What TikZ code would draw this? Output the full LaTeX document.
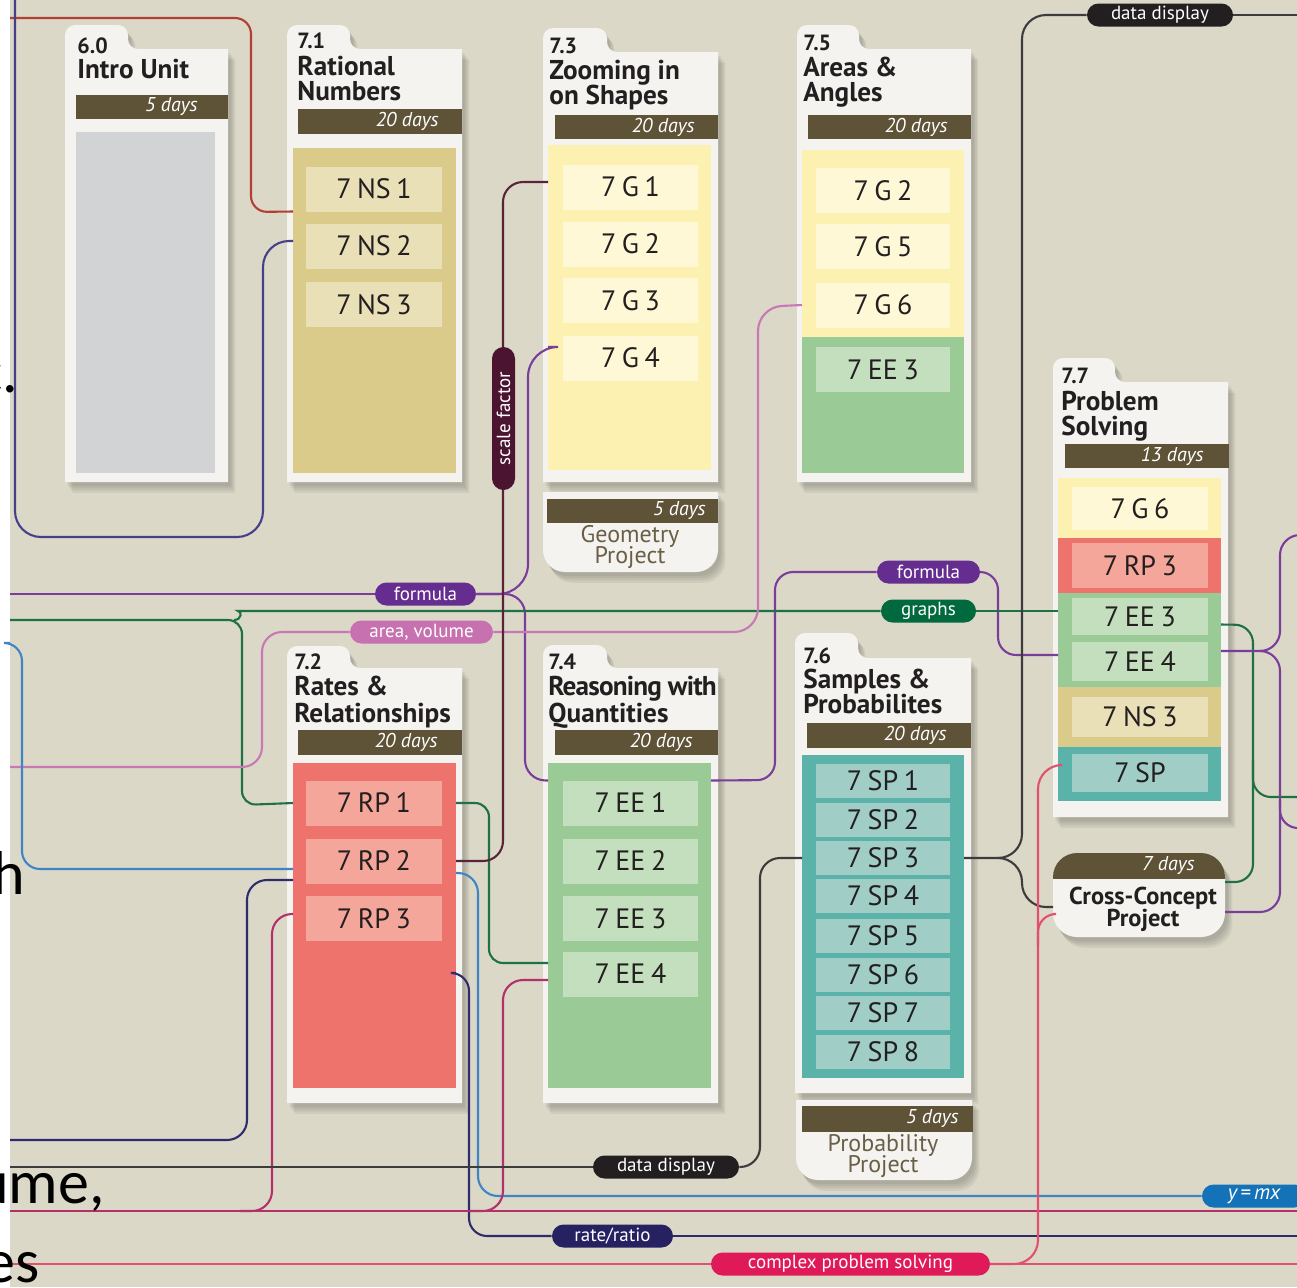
\documentclass[tikz,border=0pt]{standalone}
\usepackage{fontspec}
\setmainfont{PT Sans}
\newfontfamily\slidefont{Carlito}
\usetikzlibrary{calc}

\definecolor{bgbeige}{HTML}{DBD8C7}
\definecolor{cardbg}{HTML}{F4F3EF}
\definecolor{barbrown}{HTML}{5E5237}
\definecolor{ink}{HTML}{231F20}
\definecolor{projink}{HTML}{6A5E46}
\definecolor{areaGray}{HTML}{D1D3D5}
\definecolor{areaKhaki}{HTML}{DBCB8A}
\definecolor{boxKhaki}{HTML}{E9E0B8}
\definecolor{areaYellow}{HTML}{FDF1B1}
\definecolor{boxYellow}{HTML}{FEF8D7}
\definecolor{areaRed}{HTML}{EF736D}
\definecolor{boxRed}{HTML}{F5A69A}
\definecolor{areaGreen}{HTML}{9ACB96}
\definecolor{boxGreen}{HTML}{C3DFBD}
\definecolor{areaTeal}{HTML}{5AB2A8}
\definecolor{boxTeal}{HTML}{A0CEC7}
% connector colours
\definecolor{cRed}{HTML}{B23F33}
\definecolor{cIndigo}{HTML}{464089}
\definecolor{cPurple}{HTML}{7A3D9B}
\definecolor{cGreen}{HTML}{1F7046}
\definecolor{cPink}{HTML}{C878B4}
\definecolor{cBlue}{HTML}{3E85C5}
\definecolor{cMaroon}{HTML}{5A2339}
\definecolor{cNavy}{HTML}{2F2C6E}
\definecolor{cCrimson}{HTML}{B3306A}
\definecolor{cBlack}{HTML}{3C3C3C}
\definecolor{cRose}{HTML}{E2506F}
% label colours
\definecolor{pBlack}{HTML}{231F20}
\definecolor{pMaroon}{HTML}{4B1431}
\definecolor{pPurple}{HTML}{662D91}
\definecolor{pPink}{HTML}{C771B0}
\definecolor{pGreen}{HTML}{00693E}
\definecolor{pNavy}{HTML}{262262}
\definecolor{pRose}{HTML}{E01A59}
\definecolor{pBlue}{HTML}{1472B8}

% unit card: x0, x1, tab right, tab top, body top, bottom
\newcommand\unitcard[6]{%
  \foreach \k in {1,...,4}{%
    \fill[black,opacity=0.055,shift={(1+\k*1.6,2+\k*2.2)}] (#1,#6) [rounded corners=5pt] -- (#1,#4) -- (#3,#4) -- (#3,#5) [sharp corners] -- (#2,#5) -- (#2,#6) -- cycle;}
  \fill[cardbg] (#1,#6) [rounded corners=5pt] -- (#1,#4) -- (#3,#4) -- (#3,#5) [sharp corners] -- (#2,#5) -- (#2,#6) -- cycle;
}
% project card with rounded bottom: x0, x1, top, bottom
\newcommand\projcard[4]{%
  \foreach \k in {1,...,4}{%
    \begin{scope}[shift={(1+\k*1.6,2+\k*2.2)}]
      \clip (#1-10,#3) rectangle (#2+10,#4+10);
      \fill[black,opacity=0.055,rounded corners=11pt] (#1,#3-40) rectangle (#2,#4);
    \end{scope}}
  \begin{scope}
    \clip (#1-10,#3) rectangle (#2+10,#4+10);
    \fill[cardbg,rounded corners=11pt] (#1,#3-40) rectangle (#2,#4);
  \end{scope}
}

\begin{document}
\begin{tikzpicture}[x=0.5pt,y=-0.5pt,
  ln/.style={line width=1.05pt, rounded corners=7pt},
  area/.style={inner sep=0pt, outer sep=0pt},
  std/.style={inner sep=0pt, outer sep=0pt, minimum height=22.5pt, text=ink, font=\fontsize{14}{14}\selectfont, execute at begin node={\spaceskip=0.2em\relax}},
  stdA/.style={std, minimum width=68pt},
  stdB/.style={std, minimum width=67.5pt},
  stdC/.style={std, minimum width=67pt},
  bar/.style={fill=barbrown, inner sep=0pt, outer sep=0pt},
  days/.style={anchor=east, text=white, inner sep=0pt, font=\itshape\fontsize{10}{10}\selectfont},
  unum/.style={anchor=base west, inner sep=0pt, text=ink, font=\bfseries\fontsize{11}{11}\selectfont},
  utitle/.style={anchor=base west, inner sep=0pt, text=ink, font=\bfseries\fontsize{13.6}{13.6}\selectfont},
  ptitle/.style={anchor=base, inner sep=0pt, text=projink, font=\fontsize{12}{12}\selectfont},
  cctitle/.style={anchor=base, inner sep=0pt, text=ink, font=\bfseries\fontsize{12.2}{12.2}\selectfont},
  pill/.style={rounded corners=5.75pt, minimum height=11.5pt, inner sep=0pt, text=white, font=\fontsize{9.5}{9.5}\selectfont},
  frag/.style={anchor=base east, inner sep=0pt, text=black, font=\slidefont\fontsize{31}{31}\selectfont}
]
\useasboundingbox (0,0) rectangle (1297,1287);
\clip (0,0) rectangle (1297,1287);
\fill[white] (0,0) rectangle (1297,1287);
\fill[bgbeige] (10,0) rectangle (1297,1287);

% ---------- unit cards ----------
\unitcard{65}{228}{128}{25}{49}{482}
\unitcard{287}{462}{350}{25}{49}{482}
\unitcard{543}{718}{607}{28}{52}{482}
\unitcard{797}{971}{859}{25}{49}{482}
\unitcard{1053}{1228}{1115}{358}{382}{817}
\unitcard{287}{462}{350}{646}{668}{1103}
\unitcard{543}{718}{607}{645}{668}{1103}
\unitcard{795}{971}{858}{633}{658}{1093}
\projcard{543}{718}{492}{572}
\projcard{796}{972}{1100}{1180}

% cross-concept project
\foreach \k in {1,...,4}{%
  \fill[black,opacity=0.055,rounded corners=12pt,shift={(1+\k*1.6,2+\k*2.2)}] (1053,853) rectangle (1225,937);}
\node[fill=cardbg, rounded corners=12pt, minimum width=86pt, minimum height=42pt, inner sep=0pt, outer sep=0pt] (cc) at (1139,895) {};
\begin{scope}
  \clip (1040,850) rectangle (1240,878);
  \fill[barbrown, rounded corners=12pt] (cc.south west) rectangle (cc.north east);
\end{scope}
\node[days] (ccdays) at (1195,866) {7 days};
\node[cctitle] (cct1) at (1143,904) {Cross-Concept};
\node[cctitle] (cct2) at (1143,926) {Project};

% ---------- headings ----------
\node[unum] (n60) at (77,53) {6.0};
\node[utitle] (t60a) at (77,78) {Intro Unit};
\node[unum] (n71) at (297,48) {7.1};
\node[utitle] (t71a) at (297,75) {Rational};
\node[utitle] (t71b) at (297,100) {Numbers};
\node[unum] (n73) at (549,53) {7.3};
\node[utitle] (t73a) at (549,79) {Zooming in};
\node[utitle] (t73b) at (549,104) {on Shapes};
\node[unum] (n75) at (803,50) {7.5};
\node[utitle] (t75a) at (803,76) {Areas \&};
\node[utitle] (t75b) at (803,101) {Angles};
\node[unum] (n77) at (1061,383) {7.7};
\node[utitle] (t77a) at (1061,410) {Problem};
\node[utitle] (t77b) at (1061,435) {Solving};
\node[unum] (n72) at (294,669) {7.2};
\node[utitle] (t72a) at (294,695) {Rates \&};
\node[utitle] (t72b) at (294,722) {Relationships};
\node[unum] (n74) at (548,669) {7.4};
\node[utitle, font=\bfseries\fontsize{13.6}{13.6}\selectfont\addfontfeature{LetterSpace=-3}] (t74a) at (548,695) {Reasoning with};
\node[utitle] (t74b) at (548,722) {Quantities};
\node[unum] (n76) at (803,663) {7.6};
\node[utitle] (t76a) at (803,688) {Samples \&};
\node[utitle] (t76b) at (803,713) {Probabilites};

% ---------- day bars ----------
\node[bar, minimum width=76pt, minimum height=12pt] (d60) at (152,107) {};
\node[days] (d60t) at ([xshift=-15pt]d60.east) {5 days};
\node[bar, minimum width=82pt, minimum height=12.5pt] (d71) at (380,121.5) {};
\node[days] (d71t) at ([xshift=-11.5pt]d71.east) {20 days};
\node[bar, minimum width=81.5pt, minimum height=12pt] (d73) at (636.5,127) {};
\node[days] (d73t) at ([xshift=-11.5pt]d73.east) {20 days};
\node[bar, minimum width=81.5pt, minimum height=12pt] (d75) at (889.5,127) {};
\node[days] (d75t) at ([xshift=-11.5pt]d75.east) {20 days};
\node[bar, minimum width=82pt, minimum height=12pt] (d77) at (1147,456) {};
\node[days] (d77t) at ([xshift=-12.5pt]d77.east) {13 days};
\node[bar, minimum width=82pt, minimum height=12.5pt] (d72) at (380,742.5) {};
\node[days] (d72t) at ([xshift=-12pt]d72.east) {20 days};
\node[bar, minimum width=81.5pt, minimum height=12.5pt] (d74) at (636.5,742.5) {};
\node[days] (d74t) at ([xshift=-12.5pt]d74.east) {20 days};
\node[bar, minimum width=82pt, minimum height=12.5pt] (d76) at (889,735.5) {};
\node[days] (d76t) at ([xshift=-12pt]d76.east) {20 days};
\node[bar, minimum width=85.5pt, minimum height=12pt] (dgp) at (632.5,511) {};
\node[days] (dgpt) at ([xshift=-6pt]dgp.east) {5 days};
\node[bar, minimum width=85.5pt, minimum height=13pt] (dpp) at (887.5,1119) {};
\node[days] (dppt) at ([xshift=-7pt]dpp.east) {5 days};

% project names
\node[ptitle] (gp1) at (630,542) {Geometry};
\node[ptitle] (gp2) at (630,563) {Project};
\node[ptitle] (pp1) at (883,1151) {Probability};
\node[ptitle] (pp2) at (883,1172) {Project};

% ---------- content areas ----------
\node[area, fill=areaGray, minimum width=69.5pt, minimum height=170.5pt] (c60) at (145.5,302.5) {};
\node[area, fill=areaKhaki, minimum width=81.5pt, minimum height=162.5pt] (c71) at (374.5,310.5) {};
\node[area, fill=areaYellow, minimum width=81.5pt, minimum height=162.5pt] (c73) at (629.5,307.5) {};
\node[area, fill=areaYellow, minimum width=81pt, minimum height=161.5pt] (c75) at (883,311.5) {};
\node[area, fill=areaGreen, minimum width=81pt, minimum height=68pt] (c75b) at (883,405) {};
\node[area, minimum width=81.5pt, minimum height=161.5pt] (c77) at (1139.5,639.5) {};
\node[area, fill=areaYellow, minimum width=81.5pt, minimum height=30pt] (c77s1) at (1139.5,508) {};
\node[area, fill=areaRed, minimum width=81.5pt, minimum height=27.5pt] (c77s2) at (1139.5,565.5) {};
\node[area, fill=areaGreen, minimum width=81.5pt, minimum height=47pt] (c77s3) at (1139.5,640) {};
\node[area, fill=areaKhaki, minimum width=81.5pt, minimum height=30pt] (c77s4) at (1139.5,717) {};
\node[area, fill=areaTeal, minimum width=81.5pt, minimum height=27pt] (c77s5) at (1139.5,774) {};
\node[area, fill=areaRed, minimum width=81.5pt, minimum height=162.5pt] (c72) at (374.5,925.5) {};
\node[area, fill=areaGreen, minimum width=81.5pt, minimum height=162.5pt] (c74) at (629.5,925.5) {};
\node[area, fill=areaTeal, minimum width=81pt, minimum height=161.5pt] (c76) at (883,916.5) {};

% ---------- standards ----------
\node[stdA, fill=boxKhaki] (u71ns1) at (374,189) {7 NS 1};
\node[stdA, fill=boxKhaki] (u71ns2) at (374,246) {7 NS 2};
\node[stdA, fill=boxKhaki] (u71ns3) at (374,304.5) {7 NS 3};

\node[stdB, fill=boxYellow] (u73g1) at (630.5,187) {7 G 1};
\node[stdB, fill=boxYellow] (u73g2) at (630.5,244) {7 G 2};
\node[stdB, fill=boxYellow] (u73g3) at (630.5,300.5) {7 G 3};
\node[stdB, fill=boxYellow] (u73g4) at (630.5,358) {7 G 4};

\node[stdC, fill=boxYellow] (u75g2) at (883,190.5) {7 G 2};
\node[stdC, fill=boxYellow] (u75g5) at (883,246.5) {7 G 5};
\node[stdC, fill=boxYellow] (u75g6) at (883,305) {7 G 6};
\node[stdC, fill=boxGreen] (u75ee3) at (883,369.5) {7 EE 3};

\node[stdA, fill=boxYellow, minimum height=21.5pt] (u77g6) at (1140,508.5) {7 G 6};
\node[stdA, fill=boxRed] (u77rp3) at (1140,565.5) {7 RP 3};
\node[stdA, fill=boxGreen, minimum height=18.5pt] (u77ee3) at (1140,616.5) {7 EE 3};
\node[stdA, fill=boxGreen, minimum height=19.5pt] (u77ee4) at (1140,661.5) {7 EE 4};
\node[stdA, fill=boxKhaki, minimum height=20pt] (u77ns3) at (1140,717) {7 NS 3};
\node[stdA, fill=boxTeal, minimum height=19pt] (u77sp) at (1140,773) {7 SP};

\node[stdA, fill=boxRed] (u72rp1) at (374,803) {7 RP 1};
\node[stdA, fill=boxRed] (u72rp2) at (374,861) {7 RP 2};
\node[stdA, fill=boxRed] (u72rp3) at (374,918.5) {7 RP 3};

\node[stdB, fill=boxGreen] (u74ee1) at (630.5,803) {7 EE 1};
\node[stdB, fill=boxGreen] (u74ee2) at (630.5,861) {7 EE 2};
\node[stdB, fill=boxGreen] (u74ee3) at (630.5,918.5) {7 EE 3};
\node[stdB, fill=boxGreen] (u74ee4) at (630.5,974) {7 EE 4};

\node[stdC, fill=boxTeal, minimum height=17pt] (u76sp1) at (883,780.5) {7 SP 1};
\node[stdC, fill=boxTeal, minimum height=17pt] (u76sp2) at (883,819.5) {7 SP 2};
\node[stdC, fill=boxTeal, minimum height=17pt] (u76sp3) at (883,858) {7 SP 3};
\node[stdC, fill=boxTeal, minimum height=17pt] (u76sp4) at (883,896) {7 SP 4};
\node[stdC, fill=boxTeal, minimum height=17pt] (u76sp5) at (883,935.5) {7 SP 5};
\node[stdC, fill=boxTeal, minimum height=17pt] (u76sp6) at (883,974.5) {7 SP 6};
\node[stdC, fill=boxTeal, minimum height=17pt] (u76sp7) at (883,1012.5) {7 SP 7};
\node[stdC, fill=boxTeal, minimum height=17pt] (u76sp8) at (883,1051.5) {7 SP 8};

% ---------- label positions ----------
\coordinate (ddTopC) at (1160,15);
\coordinate (scaleC) at (503.5,418.5);
\coordinate (formulaLC) at (425.5,594);
\coordinate (areaVolC) at (421.5,632);
\coordinate (formulaRC) at (928.5,572);
\coordinate (graphsC) at (928.5,611);
\coordinate (ddBotC) at (666,1167);
\coordinate (rateRatioC) at (612.5,1236);
\coordinate (cpsC) at (850.5,1264);
\coordinate (ymxC) at (1254,1196);

% ---------- free ends at the picture border ----------
\coordinate (eRed) at (10,18);
\coordinate (eIndigo) at (15,0);
\coordinate (eFormula) at (10,594);
\coordinate (eGreen) at (10,620);
\coordinate (ePink) at (10,767);
\coordinate (eBlue) at (10,643);
\coordinate (eNavy) at (10,1140);
\coordinate (eCrim) at (10,1211);
\coordinate (eDD) at (10,1167);
\coordinate (eCps) at (10,1264);
\coordinate (eDDR) at (1297,15);
\coordinate (eGreenR) at (1297,797);
\coordinate (ePurR1) at (1297,535);
\coordinate (ePurR2) at (1297,828);
\coordinate (eNavyR) at (1297,1236);
\coordinate (eCrimR) at (1297,1211);
\coordinate (eCpsR) at (1297,1264);

% label nodes are placed first (invisible) so the connectors can end on them
\begin{scope}[every node/.append style={pill}]
\path node[minimum width=73pt] (ddTop) at (ddTopC) {\phantom{data display}}
      node[minimum width=71.5pt, rotate=90] (scale) at (scaleC) {\phantom{scale factor}}
      node[minimum width=50.5pt] (formulaL) at (formulaLC) {\phantom{formula}}
      node[minimum width=71.5pt] (areaVol) at (areaVolC) {\phantom{area, volume}}
      node[minimum width=51.5pt] (formulaR) at (formulaRC) {\phantom{formula}}
      node[minimum width=47.5pt] (graphs) at (graphsC) {\phantom{graphs}}
      node[minimum width=73pt] (ddBot) at (ddBotC) {\phantom{data display}}
      node[minimum width=60.5pt] (rateRatio) at (rateRatioC) {\phantom{rate/ratio}}
      node[minimum width=139.5pt] (cps) at (cpsC) {\phantom{complex problem solving}}
      node[minimum width=52pt] (ymx) at (ymxC) {\phantom{y = mx}};
\end{scope}

% ---------- connectors ----------
% rational numbers feed
\draw[ln, cRed, rounded corners=8pt] (eRed) -- (251,18) -- (251,212) -- (c71.west |- u71ns1.south);
\draw[ln, cIndigo, rounded corners=13pt] (eIndigo) -- (15,537) -- (263,537) -- (263,241) -- ([yshift=2.5pt]c71.west |- u71ns2);
% formula
\draw[ln, cPurple] (eFormula) -- (formulaL.west);
\draw[ln, cPurple, rounded corners=15pt] (formulaL.east) -- (528,594) -- (528,347) -- ([yshift=5.5pt]c73.west |- u73g4);
\draw[ln, cPurple, rounded corners=10pt] (formulaL.east) -- (525,594) -- (525,780) -- (c74.west |- u74ee1.north);
\draw[ln, cPurple, rounded corners=9pt] (c74.east |- u74ee1.north) -- (775,780) -- (775,572) -- (formulaR.west);
\draw[ln, cPurple, rounded corners=9pt] (formulaR.east) -- (998,572) -- (998,655) -- ([yshift=3.25pt]c77.west |- u77ee4);
% graphs
\draw[ln, cGreen] (eGreen) -- (242,620) -- (242,805) -- (c72.west |- u72rp1);
\draw[ln, cGreen] (234,620) .. controls (242,620) and (242,611) .. (252,611) -- (graphs.west);
\draw[ln, cGreen] (graphs.east) -- (c77.west |- graphs);
\draw[ln, cGreen] (c72.east |- u72rp1) -- (489,803) -- (489,963) -- ([yshift=5.5pt]c74.west |- u74ee4);
\draw[ln, cGreen, rounded corners=9pt] ([yshift=-4pt]c77.east |- u77ee3) -- (1253,625) -- (1253,882) -- ([yshift=6.5pt]cc.east);
\draw[ln, cGreen, rounded corners=9pt] (1253,760) -- (1253,797) -- (eGreenR);
% purple on the right
\draw[ln, cPurple, rounded corners=10pt] ([yshift=5.25pt]c77.east |- u77ee4) -- (1280,651) -- (1280,535) -- (ePurR1);
\draw[ln, cPurple, rounded corners=10pt] (1262,651) -- (1280,651) -- (1280,912) -- ([yshift=-8.5pt]cc.east);
\draw[ln, cPurple, rounded corners=9pt] (1280,800) -- (1280,828) -- (ePurR2);
% area, volume
\draw[ln, cPink, rounded corners=10pt] (ePink) -- (262,767) -- (262,632) -- (areaVol.west);
\draw[ln, cPink, rounded corners=12pt] (areaVol.east) -- (758,632) -- (758,307) -- (c75.west |- u75g6);
% y = mx
\draw[ln, cBlue, rounded corners=9pt] (eBlue) -- (22,643) -- (22,869) -- ([yshift=-4pt]c72.west |- u72rp2);
\draw[ln, cBlue, rounded corners=10pt] ([yshift=-6pt]c72.east |- u72rp2) -- (478,873) -- (478,1196) -- (ymx.west);
% scale factor
\draw[ln, cMaroon, rounded corners=10pt] ([yshift=2.5pt]c73.west |- u73g1) -- (503,182) -- (503,861) -- (c72.east |- u72rp2);
% rate/ratio
\draw[ln, cNavy, rounded corners=10pt] ([yshift=-9.5pt]c72.west |- u72rp2) -- (247,880) -- (247,1140) -- (eNavy);
\draw[ln, cNavy, rounded corners=9pt] ([yshift=-23.75pt]c72.east) -- (469,973) -- (469,1236) -- (rateRatio.west);
\draw[ln, cNavy] (rateRatio.east) -- (eNavyR);
% crimson line
\draw[ln, cCrimson, rounded corners=10pt] ([yshift=2.25pt]c72.west |- u72rp3) -- (272,914) -- (272,1211) -- (240,1211);
\draw[ln, cCrimson, rounded corners=10pt] ([yshift=-3pt]c74.west |- u74ee4) -- (503,980) -- (503,1211) -- (470,1211);
\draw[ln, cCrimson] (eCrim) -- (eCrimR);
% data display
\draw[ln, cBlack] (eDD) -- (ddBot.west);
\draw[ln, cBlack, rounded corners=10pt] (ddBot.east) -- (760,1167) -- (760,858) -- (c76.west |- u76sp3);
\draw[ln, cBlack, rounded corners=12pt] (c76.east |- u76sp3) -- (1022,858) -- (1022,15) -- (ddTop.west);
\draw[ln, cBlack, rounded corners=12pt] (1000,858) -- (1022,858) -- (1022,907) -- ([yshift=-6pt]cc.west);
\draw[ln, cBlack] (ddTop.east) -- (eDDR);
% complex problem solving
\draw[ln, cRose] (eCps) -- (cps.west);
\draw[ln, cRose] (cps.east) -- (eCpsR);
\draw[ln, cRose, rounded corners=12pt] (cps.east) -- (1038,1264) -- (1038,765) -- ([yshift=4pt]c77.west |- u77sp);
\draw[ln, cRose, rounded corners=9pt] (1038,945) -- (1038,914) -- ([yshift=-9.5pt]cc.west);

% labels on top of their lines
\begin{scope}[every node/.append style={pill}]
\path node[fill=pBlack, minimum width=73pt] (ddTopF) at (ddTopC) {data display}
      node[fill=pMaroon, minimum width=71.5pt, rotate=90] (scaleF) at (scaleC) {scale factor}
      node[fill=pPurple, minimum width=50.5pt] (formulaLF) at (formulaLC) {formula}
      node[fill=pPink, minimum width=71.5pt] (areaVolF) at (areaVolC) {area, volume}
      node[fill=pPurple, minimum width=51.5pt] (formulaRF) at (formulaRC) {formula}
      node[fill=pGreen, minimum width=47.5pt] (graphsF) at (graphsC) {graphs}
      node[fill=pBlack, minimum width=73pt] (ddBotF) at (ddBotC) {data display}
      node[fill=pNavy, minimum width=60.5pt] (rateRatioF) at (rateRatioC) {rate/ratio}
      node[fill=pRose, minimum width=139.5pt] (cpsF) at (cpsC) {complex problem solving}
      node[fill=pBlue, minimum width=52pt, font=\itshape\fontsize{10.5}{10.5}\selectfont] (ymxF) at (ymxC) {y\,=\,mx};
\end{scope}

% ---------- text running in from the left border ----------
\node[frag] (fr1) at (19,392) {c.};
\node[frag] (fr2) at (25,894) {h};
\node[frag] (fr3) at (105,1203) {ume,};
\node[frag] (fr4) at (40,1282) {es};
\end{tikzpicture}
\end{document}
